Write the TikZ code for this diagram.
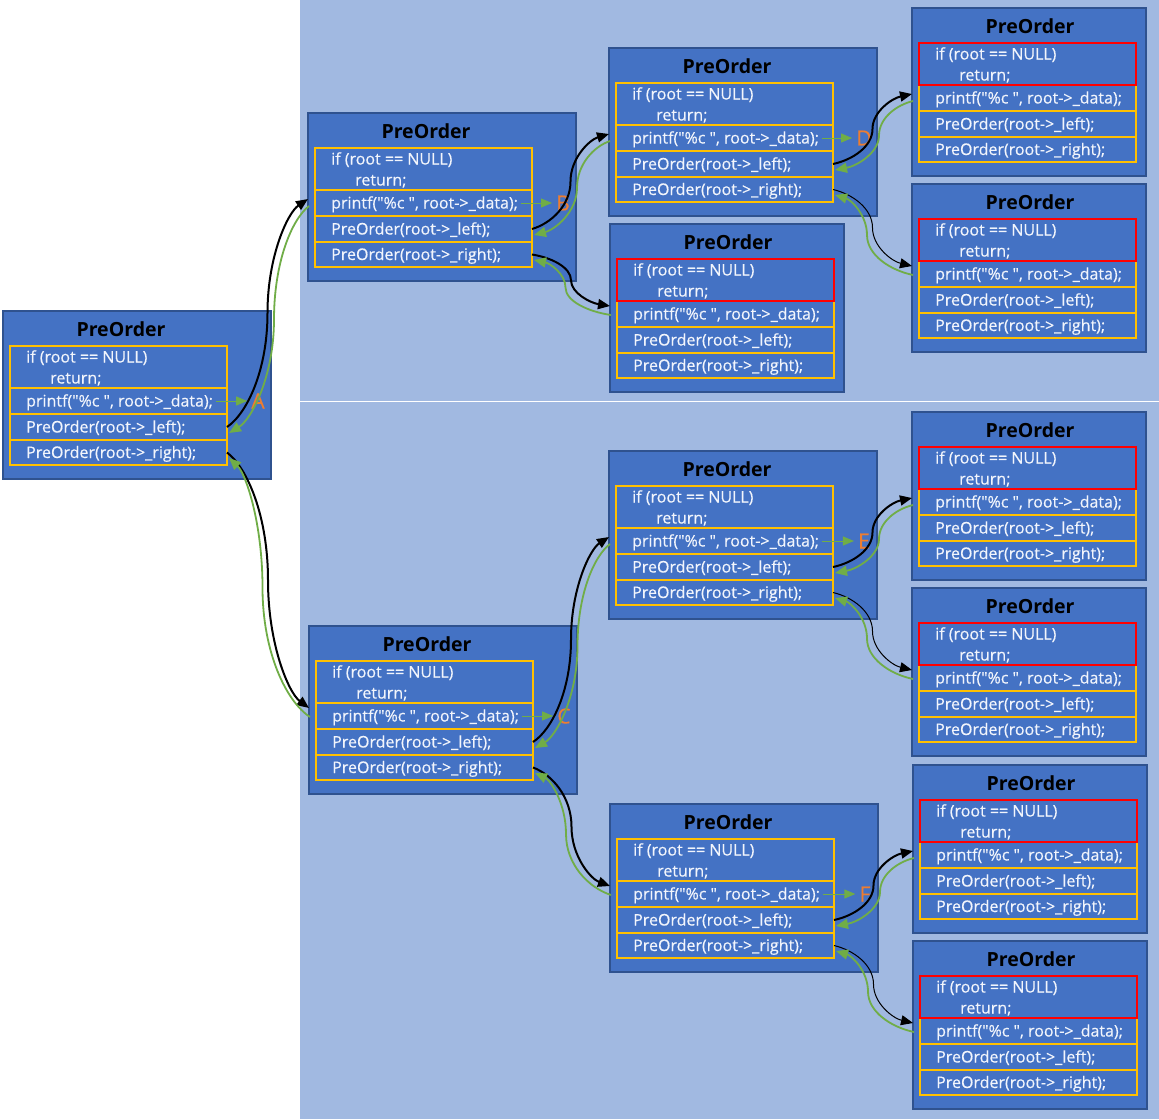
\documentclass[tikz,border=0pt]{standalone}
\usepackage{fontspec}
\setmainfont{Open Sans}
\newfontfamily\codefont{Open Sans}[FakeBold=0.4]
\usetikzlibrary{arrows.meta,calc}
\definecolor{bgblue}{RGB}{161,185,225}
\definecolor{boxblue}{RGB}{68,114,196}
\definecolor{boxedge}{RGB}{47,82,143}
\definecolor{celly}{RGB}{255,192,0}
\definecolor{cellred}{RGB}{255,0,0}
\definecolor{callgreen}{RGB}{112,173,71}
\definecolor{lblorange}{RGB}{237,125,49}
\definecolor{codecol}{RGB}{242,245,252}
\tikzset{
  outerbox/.style={draw=boxedge, line width=2pt, fill=boxblue, inner sep=0pt, outer sep=0pt, minimum height=168pt, anchor=north west},
  cellbox/.style={draw=celly, line width=2pt, inner sep=0pt, outer sep=0pt, minimum width=217pt, anchor=north west},
  codetext/.style={text=codecol, font=\codefont\fontsize{16}{18}\selectfont, inner sep=0pt, anchor=base west},
  titletext/.style={font=\fontsize{19.5}{24}\selectfont\bfseries, text=black, inner sep=0pt, anchor=base},
  lbl/.style={text=lblorange, font=\codefont\fontsize{21}{24}\selectfont, inner sep=0pt},
  call/.style={black, line width=2pt, -{Triangle[length=12pt,width=10pt]}},
  thincall/.style={black, line width=1pt, -{Triangle[length=12pt,width=10pt]}},
  ret/.style={callgreen, line width=1.8pt, -{Triangle[length=12pt,width=10pt]}},
  printarrow/.style={callgreen, line width=1pt, shorten >=4pt, -{Triangle[length=11pt,width=9pt]}},
}
% name, X, Y, W, colour of the first cell
\newcommand\POBox[5]{%
  \node[outerbox, minimum width=#4pt] (#1) at (#2,#3) {};
  \node[titletext] (#1-title) at (#2+118,#3+25) {PreOrder};
  \node[cellbox, minimum height=26pt] (#1-pr) at (#2+7,#3+77) {};
  \node[cellbox, minimum height=26pt] (#1-l) at (#2+7,#3+103) {};
  \node[cellbox, minimum height=25pt] (#1-r) at (#2+7,#3+129) {};
  \node[cellbox, minimum height=42pt, draw=#5] (#1-if) at (#2+7,#3+35) {};
  \node[codetext] (#1-t1) at (#2+23,#3+51.5) {if (root == NULL)};
  \node[codetext] (#1-t2) at (#2+47,#3+72.5) {return;};
  \node[codetext] (#1-t3) at (#2+23,#3+95.5) {printf("\%c ", root->\_data);};
  \node[codetext] (#1-t4) at (#2+23,#3+121.5) {PreOrder(root->\_left);};
  \node[codetext] (#1-t5) at (#2+23,#3+147) {PreOrder(root->\_right);};
  \coordinate (#1-tipu) at (#2,#3+86);
  \coordinate (#1-tipd) at (#2,#3+82);
  \coordinate (#1-gsu) at (#2+1,#3+93);
  \coordinate (#1-gsd) at (#2+1,#3+91);
  \coordinate (#1-lret) at (#2+226,#3+122);
  \coordinate (#1-rret) at (#2+226,#3+147);
}
\newcommand\PrintLabel[2]{%
  \node[lbl] (lbl#1) at ([xshift=31pt]#1-pr.east) {#2};
  \draw[printarrow] ([xshift=-11pt]#1-pr.east) -- (lbl#1.west);
}
% curved connector (two cubic pieces, vertical in the middle): style, from, to, shift of the middle
\newcommand\CurveConn[4]{%
  \draw[#1] let \p1=(#2), \p2=(#3) in
    (\p1) .. controls ({0.75*\x1+0.25*\x2+0.5*(#4)*1pt}, {\y1+0.06*(\y2-\y1)})
              and ({0.5*(\x1+\x2)+(#4)*1pt}, {0.75*\y1+0.25*\y2})
          .. ({0.5*(\x1+\x2)+(#4)*1pt}, {0.5*(\y1+\y2)})
          .. controls ({0.5*(\x1+\x2)+(#4)*1pt}, {0.25*\y1+0.75*\y2})
              and ({0.25*\x1+0.75*\x2+0.5*(#4)*1pt}, {\y2-0.06*(\y2-\y1)})
          .. (\p2);
}
\begin{document}
\begin{tikzpicture}[x=1pt,y=-1pt]
\useasboundingbox (0,0) rectangle (1159,1119);
\fill[bgblue] (300,0) rectangle (1159,1119);
\draw[white, line width=1pt] (300,401) -- (1159,401);

\POBox{A}{3}{311}{268}{celly}
\POBox{B}{308}{113}{268}{celly}
\POBox{D}{609}{48}{268}{celly}
\POBox{DL}{912}{8}{234}{cellred}
\POBox{DR}{912}{184}{234}{cellred}
\POBox{BR}{610}{224}{234}{cellred}
\POBox{C}{309}{626}{268}{celly}
\POBox{E}{609}{451}{268}{celly}
\POBox{EL}{912}{412}{234}{cellred}
\POBox{ER}{912}{588}{234}{cellred}
\POBox{F}{610}{804}{268}{celly}
\POBox{FL}{913}{765}{234}{cellred}
\POBox{FR}{913}{941}{234}{cellred}

\PrintLabel{A}{A}
\PrintLabel{B}{B}
\PrintLabel{D}{D}
\PrintLabel{C}{C}
\PrintLabel{E}{E}
\PrintLabel{F}{F}

% A
\CurveConn{call}{A-l.east}{B-tipu}{0}
\CurveConn{ret}{B-gsu}{A-lret}{5}
\CurveConn{call}{A-r.east}{C-tipd}{0}
\CurveConn{ret}{C-gsd}{A-rret}{-7}
% B
\CurveConn{call}{B-l.east}{D-tipu}{0}
\CurveConn{ret}{D-gsu}{B-lret}{5}
\CurveConn{call}{B-r.east}{BR-tipd}{0}
\CurveConn{ret}{BR-gsd}{B-rret}{-7}
% D
\CurveConn{call}{D-l.east}{DL-tipu}{0}
\CurveConn{ret}{DL-gsu}{D-lret}{5}
\CurveConn{thincall}{D-r.east}{DR-tipd}{0}
\CurveConn{ret}{DR-gsd}{D-rret}{-7}
% C
\CurveConn{call}{C-l.east}{E-tipu}{0}
\CurveConn{ret}{E-gsu}{C-lret}{5}
\CurveConn{call}{C-r.east}{F-tipd}{0}
\CurveConn{ret}{F-gsd}{C-rret}{-7}
% E
\CurveConn{call}{E-l.east}{EL-tipu}{0}
\CurveConn{ret}{EL-gsu}{E-lret}{5}
\CurveConn{thincall}{E-r.east}{ER-tipd}{0}
\CurveConn{ret}{ER-gsd}{E-rret}{-7}
% F
\CurveConn{call}{F-l.east}{FL-tipu}{0}
\CurveConn{ret}{FL-gsu}{F-lret}{5}
\CurveConn{thincall}{F-r.east}{FR-tipd}{0}
\CurveConn{ret}{FR-gsd}{F-rret}{-7}
\end{tikzpicture}
\end{document}
